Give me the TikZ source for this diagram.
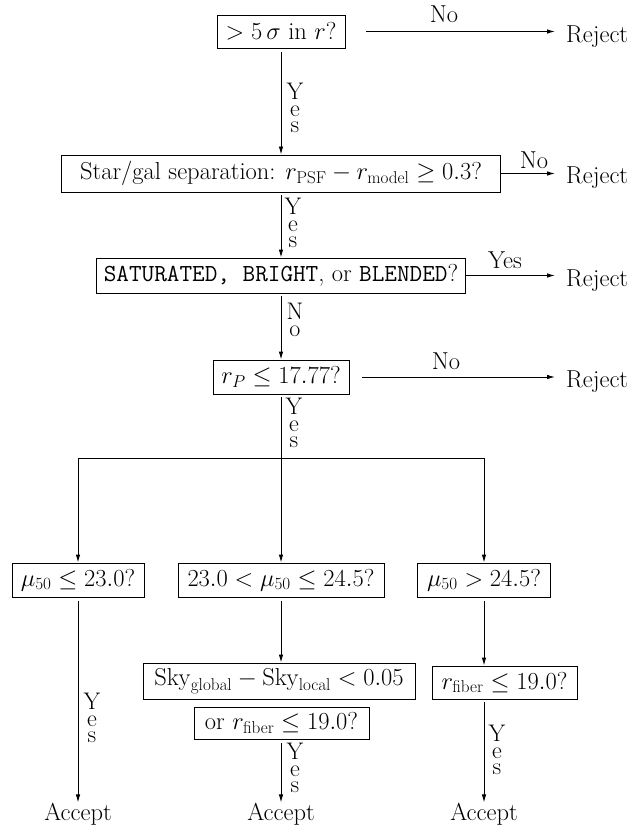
\RequirePackage{fix-cm}
\documentclass[tikz,border=0pt]{standalone}
\usetikzlibrary{arrows.meta}
\begin{document}
\begin{tikzpicture}[x=1pt,y=-1pt,
  font=\fontsize{24.5}{29}\selectfont,
  qbox/.style={draw, line width=0.9pt, inner sep=1pt, align=center},
  arr/.style={-{Latex[length=8pt,width=4.5pt]}, line width=0.9pt},
  plain/.style={line width=0.9pt},
  vlab/.style={inner sep=0pt, anchor=north, align=center, font=\fontsize{24}{16.5}\selectfont},
  hlab/.style={inner sep=0pt, anchor=base},
  endlab/.style={inner sep=0pt}
]
\useasboundingbox (0,0) rectangle (633,829);

% decision boxes
\node[qbox, minimum width=128, minimum height=33] (b1) at (281,31.5) {$>5\,\sigma$ in $r$?};
\node[qbox, minimum width=439, minimum height=37] (b2) at (281,173.5) {Star/gal separation: $r_{\mathrm{PSF}}-r_{\mathrm{model}}\geq 0.3$?};
\node[qbox, minimum width=369, minimum height=35] (b3) at (281,275.5) {\texttt{SATURATED, BRIGHT}, or \texttt{BLENDED}?};
\node[qbox, minimum width=136, minimum height=34] (b4) at (281,377) {$r_P\leq 17.77$?};
\node[qbox, minimum width=132, minimum height=34] (b5) at (78,580) {$\mu_{50}\leq 23.0$?};
\node[qbox, minimum width=206, minimum height=34] (b6) at (281,580) {$23.0<\mu_{50}\leq 24.5$?};
\node[qbox, minimum width=133, minimum height=34] (b7) at (484,580) {$\mu_{50}>24.5$?};
\node[qbox, minimum width=272, minimum height=36] (b8) at (279,681) {$\mathrm{Sky}_{\mathrm{global}}-\mathrm{Sky}_{\mathrm{local}}<0.05$};
\node[qbox, minimum width=175, minimum height=32] (b9) at (281.5,723) {or $r_{\mathrm{fiber}}\leq 19.0$?};
\node[qbox, minimum width=145, minimum height=33] (b10) at (504.5,682.5) {$r_{\mathrm{fiber}}\leq 19.0$?};

% outcomes
\node[endlab, anchor=base west] (r1) at (566,42.5) {Reject};
\node[endlab, anchor=base west] (r2) at (566,183.5) {Reject};
\node[endlab, anchor=base west] (r3) at (566,286) {Reject};
\node[endlab, anchor=base west] (r4) at (566,387) {Reject};
\node[endlab, anchor=base] (a1) at (78,820) {Accept};
\node[endlab, anchor=base] (a2) at (281,820) {Accept};
\node[endlab, anchor=base] (a3) at (484,820) {Accept};

% junction
\coordinate (j) at (281,458);

% horizontal connectors to Reject
\draw[arr, shorten <=21pt, shorten >=11pt] (b1.east) -- (b1.east -| r1.west);
\draw[arr, shorten >=11pt] (b2.east) -- (b2.east -| r2.west);
\draw[arr, shorten >=11pt] (b3.east) -- (b3.east -| r3.west);
\draw[arr, shorten <=13pt, shorten >=11pt] (b4.east) -- (b4.east -| r4.west);

\node[hlab] (n1) at (444,23) {No};
\node[hlab] (n2) at (534,169) {No};
\node[hlab] (n3) at (505,268) {Yes};
\node[hlab] (n4) at (446,369) {No};

% vertical connectors
\draw[arr, shorten <=4pt] (b1.south) -- (b1.south |- b2.north);
\draw[arr, shorten <=3pt] (b2.south) -- (b2.south |- b3.north);
\draw[arr, shorten <=3pt] (b3.south) -- (b3.south |- b4.north);
\draw[plain, shorten <=3pt] (b4.south) -- (j);
\draw[arr] (j) -| (b5.north);
\draw[arr] (j) -- (b6.north);
\draw[arr] (j) -| (b7.north);
\draw[arr, shorten <=4pt] (b5.south) -- (a1.north);
\draw[arr, shorten <=4pt] (b6.south) -- (b6.south |- b8.north);
\draw[arr, shorten <=4pt] (b9.south -| a2.north) -- (a2.north);
\draw[arr, shorten <=4pt] (b7.south) -- (b7.south |- b10.north);
\draw[arr, shorten <=3pt] (b10.south -| a3.north) -- (a3.north);

% vertical labels
\node[vlab] (y1) at (295,83) {Y\\e\\s};
\node[vlab] (y2) at (293,198) {Y\\e\\s};
\node[vlab] (y3) at (295,303) {N\\o};
\node[vlab] (y4) at (294,398) {Y\\e\\s};
\node[vlab] (y5) at (92,693) {Y\\e\\s};
\node[vlab] (y6) at (295,743) {Y\\e\\s};
\node[vlab] (y7) at (497,725) {Y\\e\\s};
\end{tikzpicture}
\end{document}
